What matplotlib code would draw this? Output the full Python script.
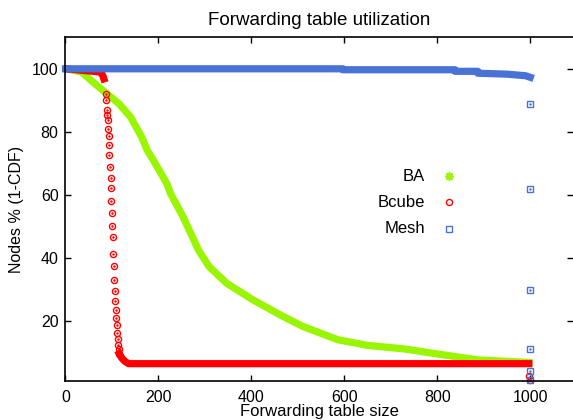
"""
Forwarding table utilization - 1-CDF of forwarding table size
"""

import matplotlib
matplotlib.use("Agg")
import matplotlib.pyplot as plt

plt.rcParams['font.family'] = ['Liberation Sans', 'DejaVu Sans']

# BA: dense band of star markers
ba_x = [0, 20, 35, 63, 89, 115, 140, 164, 176, 189, 218, 226, 253, 286,
        309, 347, 404, 468, 511, 586, 650, 728, 808, 887, 997]
ba_y = [100, 99.5, 98.9, 95.3, 92.1, 88.9, 84.7, 78.3, 74.1, 71.0, 63.6, 60.4, 53.0, 42.5,
        37.2, 31.9, 26.6, 21.4, 18.2, 14.0, 12.2, 11.1, 9.3, 7.6, 6.8]

# Bcube: dense top, sparse drop, dense floor, sparse end
bcube_top_x = [0, 74, 80, 85]
bcube_top_y = [100, 99.0, 98.0, 95.7]
bcube_drop_x = [86.5, 87.1, 88.6, 89.2, 90.8, 92.0, 92.9, 93.5, 94.2, 95.7, 97.2, 97.8,
                98.5, 99.4, 100.6, 101.5, 102.2, 103.7, 104.9, 105.8, 106.5, 108.0,
                109.2, 110.1, 111.4, 112.3, 113.5, 114.4, 115.7]
bcube_drop_y = [92.1, 90.0, 86.9, 85.2, 83.9, 81.0, 78.7, 75.9, 72.6, 68.8, 65.4, 62.2,
                58.0, 54.1, 50.1, 46.6, 41.2, 37.3, 33.1, 29.4, 26.4, 23.3,
                20.9, 18.7, 16.2, 14.2, 12.4, 11.0, 9.6]
bcube_floor_x = [115.7, 121, 128, 136, 997]
bcube_floor_y = [9.6, 8.2, 7.1, 6.4, 6.4]
bcube_end_x = [998, 1000]
bcube_end_y = [2.4, 1.3]

# Mesh: dense near 100, then sparse points at 1000
mesh_x = [0, 597, 597, 838, 838, 887, 887, 950, 990, 1000]
mesh_y = [100, 100, 99.7, 99.7, 99.2, 99.2, 98.6, 98.3, 97.8, 97.3]
mesh_end_x = [1000, 1000, 1000, 1000, 1000, 1000]
mesh_end_y = [88.9, 61.8, 29.8, 11.1, 4.0, 1.2]

c_ba = '#99f500'
c_bc = '#ff0000'
c_me = '#4872d6'

fig = plt.figure(figsize=(5.73, 4.20), dpi=100)
ax = fig.add_axes([0.1143, 0.0936, 0.8857, 0.8176])

band = 5.2
ax.plot(ba_x, ba_y, color=c_ba, lw=band, solid_capstyle='projecting', solid_joinstyle='round')

ax.plot(bcube_top_x, bcube_top_y, color=c_bc, lw=band, solid_capstyle='butt')
ax.plot(bcube_drop_x, bcube_drop_y, ls='none', marker='o', ms=4.4, mfc='none', mec=c_bc, mew=1.0)
ax.plot(bcube_drop_x, bcube_drop_y, ls='none', marker='.', ms=1.5, color=c_bc)
ax.plot(bcube_floor_x, bcube_floor_y, color=c_bc, lw=band, solid_capstyle='projecting', solid_joinstyle='round')
ax.plot(bcube_end_x, bcube_end_y, ls='none', marker='o', ms=4.4, mfc='none', mec=c_bc, mew=1.0, clip_on=False)

ax.plot(mesh_x, mesh_y, color=c_me, lw=band, solid_capstyle='projecting', clip_on=False)
ax.plot(mesh_end_x, mesh_end_y, ls='none', marker='s', ms=4.0, mfc='none', mec=c_me, mew=1.0, clip_on=False)
ax.plot(mesh_end_x, mesh_end_y, ls='none', marker='.', ms=1.5, color=c_me, clip_on=False)

ax.set_xlim(0, 1092)
ax.set_ylim(1, 110)
ax.set_xticks([0, 200, 400, 600, 800, 1000])
ax.set_yticks([20, 40, 60, 80, 100])
ax.tick_params(direction='in', length=4.5, width=1, labelsize=11.5, top=True, right=True)
ax.tick_params(axis='x', pad=7)
ax.tick_params(axis='y', pad=5)
ax.spines['right'].set_visible(False)
for s in ['left', 'bottom', 'top']:
    ax.spines[s].set_linewidth(1.2)

ax.set_title('Forwarding table utilization', fontsize=13.5, pad=9)
ax.set_xlabel('Forwarding table size', fontsize=12, labelpad=-1)
ax.set_ylabel('Nodes % (1-CDF)', fontsize=11.5, labelpad=6)

# legend (right-aligned labels, sample to the right)
leg = [('BA', 0.596, dict(marker=(8, 2, 0), ms=6, color=c_ba, mew=1.2)),
       ('Bcube', 0.519, dict(marker='o', ms=4.4, mfc='none', mec=c_bc, mew=1.0)),
       ('Mesh', 0.442, dict(marker='s', ms=4.0, mfc='none', mec=c_me, mew=1.0))]
for name, yy, st in leg:
    ax.text(0.708, yy, name, transform=ax.transAxes, ha='right', va='center', fontsize=12)
    ax.plot([0.756], [yy], transform=ax.transAxes, ls='none', **st)

fig.savefig('out.png', dpi=100)
